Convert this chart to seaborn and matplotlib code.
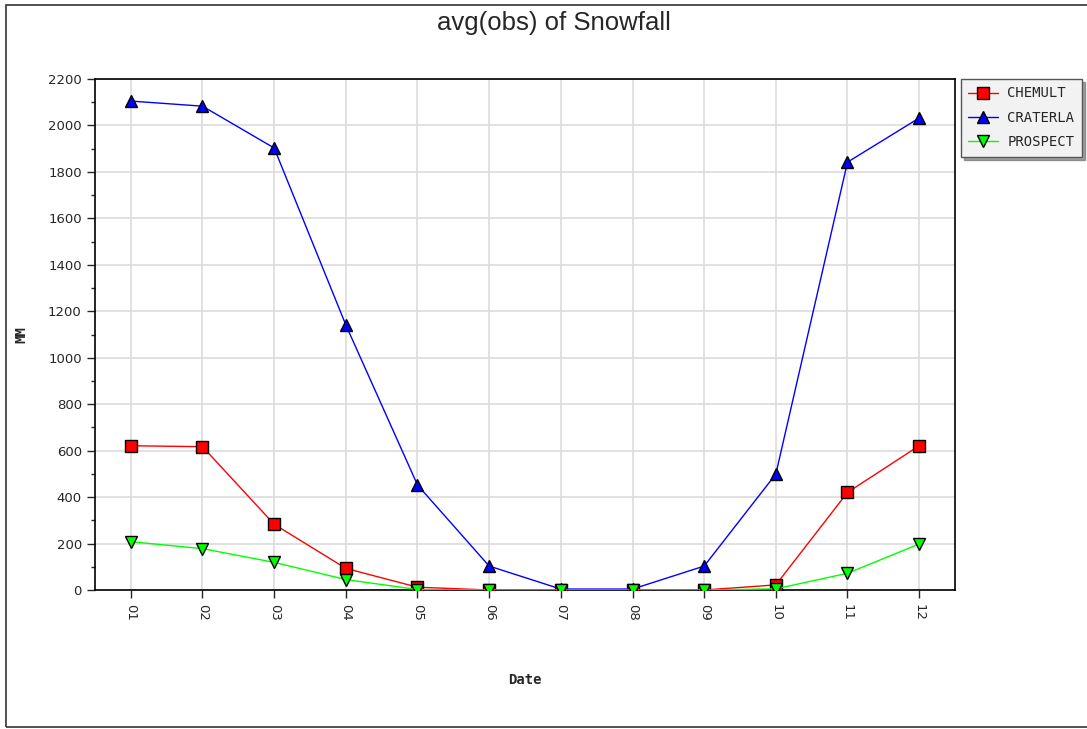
import numpy as np
import pandas as pd
import matplotlib
matplotlib.use("Agg")
import matplotlib.pyplot as plt
from matplotlib.patches import Rectangle
import seaborn as sns

# --- Data ---
months = ["01", "02", "03", "04", "05", "06", "07", "08", "09", "10", "11", "12"]
chemult = [621, 617, 283, 93, 12, 0, 0, 0, 0, 22, 420, 621]
craterla = [2105, 2083, 1903, 1141, 452, 103, 4, 4, 103, 499, 1842, 2032]
prospect = [208, 178, 119, 45, 2, 0, 0, 0, 0, 5, 72, 198]

stations = ["CHEMULT", "CRATERLA", "PROSPECT"]
colors = {"CHEMULT": "#ff0000", "CRATERLA": "#0000ff", "PROSPECT": "#00ff00"}
markers = {"CHEMULT": "s", "CRATERLA": "^", "PROSPECT": "v"}

df = pd.DataFrame({
    "Date": months * 3,
    "MM": chemult + craterla + prospect,
    "station": np.repeat(stations, len(months)),
})
df["x"] = df["Date"].map({m: i for i, m in enumerate(months)})

sns.set_style("white")
W, H = 1087, 729
fig = plt.figure(figsize=(W / 100, H / 100), dpi=100)
ax = fig.add_axes([95 / W, 1 - 590 / H, (955 - 95) / W, (590 - 79) / H])

sns.lineplot(
    data=df, x="x", y="MM", hue="station", style="station",
    palette=colors, markers=markers, dashes=False, linewidth=1,
    markersize=8, markeredgecolor="black", markeredgewidth=1,
    legend=False, ax=ax, zorder=3,
)

# --- Axes styling ---
ax.set_xlim(-0.5, len(months) - 0.5)
ax.set_ylim(0, 2200)
ax.set_xticks(range(len(months)))
ax.set_xticklabels(months, rotation=270, fontsize=9.5, family="DejaVu Sans")
ax.set_yticks(np.arange(0, 2201, 200))
ax.set_yticks(np.arange(100, 2200, 200), minor=True)
ax.tick_params(axis="y", which="major", labelsize=9.5, length=6, width=1, direction="out", left=True)
ax.tick_params(axis="y", which="minor", length=3, width=1, direction="out", left=True)
ax.tick_params(axis="x", length=6, width=1, direction="out", bottom=True, pad=4)
ax.grid(True, which="major", color="#dcdcdc", linewidth=1.2)
for s in ax.spines.values():
    s.set_color("black")
    s.set_linewidth(1.2)

ax.set_xlabel("Date", family="DejaVu Sans Mono", fontweight="bold", fontsize=10)
ax.set_ylabel("MM", family="DejaVu Sans Mono", fontweight="bold", fontsize=10)
ax.xaxis.set_label_coords((525 - 95) / (955 - 95), -(673 - 590) / (590 - 79))
ax.yaxis.set_label_coords(-(95 - 28) / (955 - 95), 0.5)

fig.text(554 / W, 1 - 23 / H, "avg(obs) of Snowfall", ha="center", va="center",
         fontsize=18.5, family="Liberation Sans")

# --- Legend ---
handles = [
    plt.Line2D([], [], color=colors[s], marker=markers[s], markersize=8,
               markeredgecolor="black", linewidth=1)
    for s in stations
]
leg = fig.legend(handles, stations, loc="upper left",
                 bbox_to_anchor=(958 / W, 1 - 76 / H), frameon=True, shadow=True,
                 fancybox=False, prop={"family": "DejaVu Sans Mono", "size": 10},
                 handlelength=2.1, handletextpad=0.7, borderpad=0.55,
                 labelspacing=0.75, borderaxespad=0.2)
leg.get_frame().set_facecolor("#f2f2f2")
leg.get_frame().set_edgecolor("#555555")

# outer border
fig.patches.append(Rectangle((6 / W, 2 / H), 1.2, 1 - 7 / H, transform=fig.transFigure,
                             fill=False, edgecolor="#333333", linewidth=1.2))

fig.savefig("out.png", dpi=100)
